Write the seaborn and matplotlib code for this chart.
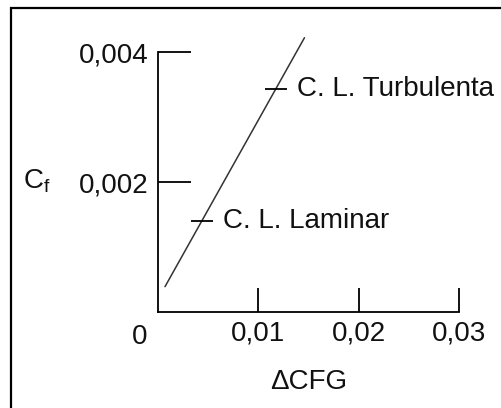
import matplotlib
matplotlib.use("Agg")
import matplotlib.pyplot as plt
import matplotlib.patches as patches
import pandas as pd
import seaborn as sns

# data
line_x = [0.0007, 0.0146]
line_y = [0.00039, 0.00422]
point_x = [0.0044, 0.0118]
point_y = [0.0014, 0.00343]
point_labels = ["C. L. Laminar", "C. L. Turbulenta"]
x_ticks = [0.01, 0.02, 0.03]
x_ticklabels = ["0,01", "0,02", "0,03"]
y_ticks = [0.002, 0.004]
y_ticklabels = ["0,002", "0,004"]

sns.set_style("white")
plt.rcParams["font.family"] = ["Liberation Sans", "DejaVu Sans"]
plt.rcParams["mathtext.fontset"] = "custom"
plt.rcParams["mathtext.rm"] = "Liberation Sans"

FS = 20
fig = plt.figure(figsize=(5.02, 4.08), dpi=100)
ax = fig.add_axes([0.3147, 0.2353, 0.5996, 0.6372])

# outer frame (cut off on the right and bottom)
fig.patches.append(patches.Rectangle((0.022, -0.05), 1.2, 1.03, transform=fig.transFigure,
                                     fill=False, edgecolor="black", linewidth=1.6))

df_line = pd.DataFrame({"x": line_x, "y": line_y})
sns.lineplot(data=df_line, x="x", y="y", ax=ax, color="#333333", linewidth=1.1, clip_on=False)

df_pts = pd.DataFrame({"x": point_x, "y": point_y, "label": point_labels})
sns.scatterplot(data=df_pts, x="x", y="y", ax=ax, marker="_", s=260, color="black",
                linewidth=1.3, zorder=3)
for _, r in df_pts.iterrows():
    ax.annotate(r["label"], (r["x"], r["y"]), xytext=(15, 0), textcoords="offset points",
                va="center", ha="left", fontsize=FS, color="#111111")

ax.set_xlim(0, 0.03)
ax.set_ylim(0, 0.004)
ax.set_xticks(x_ticks)
ax.set_xticklabels(x_ticklabels)
ax.set_yticks(y_ticks)
ax.set_yticklabels(y_ticklabels)

for s in ["top", "right"]:
    ax.spines[s].set_visible(False)
for s in ["left", "bottom"]:
    ax.spines[s].set_linewidth(1.3)
    ax.spines[s].set_color("black")

ax.tick_params(axis="x", bottom=True, direction="in", length=17, width=1.3, pad=6,
               labelsize=FS, colors="black")
ax.tick_params(axis="y", left=True, direction="in", length=24, width=1.3, pad=7,
               labelsize=FS, colors="black")
for lab in ax.get_xticklabels() + ax.get_yticklabels():
    lab.set_color("#111111")

ax.text(-0.06, -0.045, "0", transform=ax.transAxes, ha="center", va="top",
        fontsize=FS, color="#111111")
ax.set_xlabel("ΔCFG", fontsize=FS, color="#111111", labelpad=16)
ax.set_ylabel("")
fig.text(0.045, 0.555, r"C$_\mathrm{f}$", fontsize=FS, color="#111111", ha="left", va="center")

fig.savefig("out.png", dpi=100)
